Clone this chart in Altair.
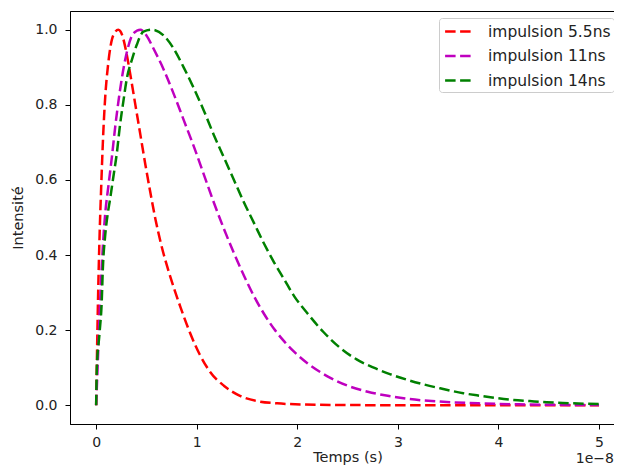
import altair as alt
import pandas as pd

# Time axis in units of 1e-8 s (as displayed with the "1e-8" offset)
labels = ["impulsion 5.5ns", "impulsion 11ns", "impulsion 14ns"]
colors = ["#ff0000", "#bf00bf", "#008000"]

t_red = [0, 0.01, 0.02, 0.035, 0.05, 0.07, 0.09, 0.12, 0.17, 0.22, 0.26, 0.30,
         0.34, 0.39, 0.44, 0.49, 0.54, 0.59, 0.64, 0.74, 0.84, 0.93, 1.03, 1.13,
         1.27, 1.43, 1.6, 1.8, 2.06, 2.5, 3.0, 3.5, 4.0, 4.5, 5.0]
i_red = [0, 0.16, 0.30, 0.46, 0.58, 0.72, 0.82, 0.91, 0.985, 1.0, 0.985, 0.94,
         0.88, 0.80, 0.72, 0.64, 0.565, 0.495, 0.435, 0.34, 0.26, 0.195, 0.135,
         0.09, 0.052, 0.025, 0.011, 0.005, 0.002, 0.0005, 0.0, 0.0, 0.0, 0.0, 0.0]

t_mag = [0, 0.01, 0.02, 0.04, 0.056, 0.073, 0.09, 0.12, 0.156, 0.189, 0.222,
         0.255, 0.305, 0.37, 0.44, 0.50, 0.57, 0.67, 0.77, 0.87, 0.97, 1.07,
         1.17, 1.27, 1.37, 1.47, 1.57, 1.67, 1.77, 1.87, 1.97, 2.1, 2.3, 2.5,
         2.7, 2.9, 3.1, 3.4, 3.8, 4.2, 4.6, 5.0]
i_mag = [0, 0.07, 0.14, 0.28, 0.37, 0.45, 0.51, 0.58, 0.66, 0.74, 0.81,
         0.87, 0.94, 0.99, 1.0, 0.985, 0.95, 0.895, 0.83, 0.76, 0.69, 0.615,
         0.54, 0.47, 0.405, 0.345, 0.29, 0.243, 0.203, 0.17, 0.142, 0.112,
         0.077, 0.052, 0.036, 0.025, 0.017, 0.01, 0.005, 0.0025, 0.001, 0.0005]

t_grn = [0, 0.007, 0.033, 0.056, 0.066, 0.089, 0.11, 0.139, 0.172, 0.205,
         0.239, 0.271, 0.305, 0.355, 0.404, 0.47, 0.555, 0.67, 0.77, 0.87,
         0.97, 1.07, 1.17, 1.27, 1.37, 1.47, 1.57, 1.67, 1.77, 1.87, 1.97,
         2.1, 2.26, 2.43, 2.59, 2.76, 2.92, 3.09, 3.25, 3.42, 3.65, 3.82, 3.98,
         4.15, 4.31, 4.48, 4.64, 5.0]
i_grn = [0, 0.10, 0.19, 0.28, 0.36, 0.45, 0.50, 0.55, 0.61, 0.67,
         0.75, 0.81, 0.87, 0.92, 0.96, 0.995, 1.0, 0.985, 0.95, 0.90,
         0.845, 0.785, 0.72, 0.66, 0.60, 0.54, 0.485, 0.43, 0.38, 0.335, 0.29,
         0.245, 0.195, 0.152, 0.122, 0.10, 0.083, 0.068, 0.056, 0.045, 0.032,
         0.025, 0.019, 0.014, 0.011, 0.008, 0.006, 0.003]

x_ticks = [0, 1, 2, 3, 4, 5]
y_ticks = [0.0, 0.2, 0.4, 0.6, 0.8, 1.0]

rows = []
for lab, ts, vs in zip(labels, [t_red, t_mag, t_grn], [i_red, i_mag, i_grn]):
    for k, (t, v) in enumerate(zip(ts, vs)):
        rows.append({"serie": lab, "t": t, "val": v, "k": k})
df = pd.DataFrame(rows)

W, H = 544, 413
FONT = "DejaVu Sans"
FS_LAB = 14
FS_TIT = 14.5

lines = alt.Chart(df).mark_line(
    strokeDash=[10.5, 4.5], strokeWidth=2.5, interpolate="monotone"
).encode(
    x=alt.X("t:Q", scale=alt.Scale(domain=[-0.26, 5.149], nice=False, zero=False),
            axis=alt.Axis(values=x_ticks, format="d", title="Temps (s)",
                          labelPadding=6, titleX=277.5, titleAlign="center",
                          titleY=37, titleBaseline="alphabetic")),
    y=alt.Y("val:Q", scale=alt.Scale(domain=[-0.05, 1.05], nice=False, zero=False),
            axis=alt.Axis(values=y_ticks, format=".1f", title="Intensité",
                          labelPadding=8,
                          titleX=-52, titleY=H / 2, titleAngle=270,
                          titleAlign="center", titleBaseline="middle")),
    color=alt.Color("serie:N", sort=labels,
                    scale=alt.Scale(domain=labels, range=colors),
                    legend=alt.Legend(title=None, orient="none", legendX=369, legendY=7,
                                      symbolType="M-1.6,0H1.6", symbolSize=324,
                                      symbolStrokeWidth=2.5, symbolDash=[10.5, 4.5],
                                      symbolOffset=7, labelOffset=18,
                                      labelFont=FONT, labelFontSize=15.5, labelColor="#222",
                                      padding=3, rowPadding=5.5,
                                      strokeColor="#cccccc", cornerRadius=3,
                                      fillColor="white")),
    order="k:Q",
)

offset_df = pd.DataFrame({"txt": ["1e\u22128"]})
offset = alt.Chart(offset_df).mark_text(
    align="right", baseline="alphabetic", font=FONT, fontSize=FS_LAB, color="#222"
).encode(x=alt.value(W), y=alt.value(H + 38.5), text="txt:N")

chart = alt.layer(lines, offset).properties(
    width=W, height=H,
    autosize=alt.AutoSizeParams(type="none"),
    padding={"left": 62, "top": 3, "right": 0, "bottom": 42},
    background="white",
).configure_view(stroke="black", strokeWidth=1).configure_axis(
    grid=False, domainColor="black", tickColor="black", tickSize=5,
    labelFont=FONT, labelFontSize=FS_LAB, labelColor="#222",
    titleFont=FONT, titleFontSize=FS_TIT, titleColor="#222", titleFontWeight="normal",
)

chart.save("out.html", embed_options={"renderer": "svg", "actions": False})
